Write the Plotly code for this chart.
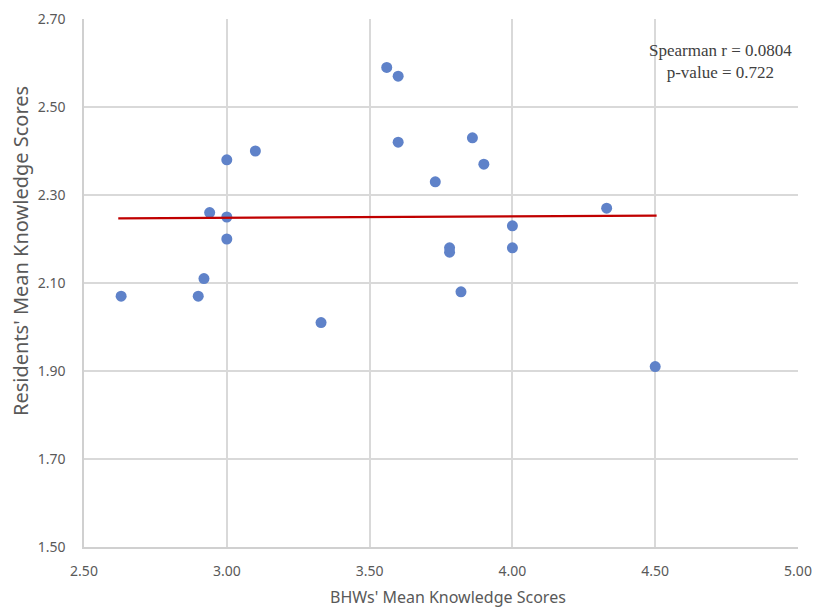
import plotly.graph_objects as go

bhw_scores = [2.63, 2.90, 2.92, 2.94, 3.00, 3.00, 3.00, 3.10, 3.33, 3.56, 3.60,
              3.60, 3.73, 3.86, 3.90, 3.78, 3.78, 3.82, 4.00, 4.00, 4.33, 4.50]
resident_scores = [2.07, 2.07, 2.11, 2.26, 2.25, 2.20, 2.38, 2.40, 2.01, 2.59, 2.57,
                   2.42, 2.33, 2.43, 2.37, 2.18, 2.17, 2.08, 2.23, 2.18, 2.27, 1.91]
trend_x = [2.62, 4.505]
trend_y = [2.247, 2.253]
x_ticks = [2.5, 3.0, 3.5, 4.0, 4.5, 5.0]
y_ticks = [1.5, 1.7, 1.9, 2.1, 2.3, 2.5, 2.7]
stats_text = "Spearman r = 0.0804<br>p-value = 0.722"
x_title = "BHWs' Mean Knowledge Scores"
y_title = "Residents' Mean Knowledge Scores"

W, H = 816, 608
L, R, T, B = 84, 18, 19, 61
pw, ph = W - L - R, H - T - B


def px(x):
    return (x - L) / pw


def py(y):
    return 1 - (y - T) / ph


fig = go.Figure()
fig.add_trace(go.Scatter(x=bhw_scores, y=resident_scores, mode="markers",
                         marker=dict(color="#5f82c9", size=11), showlegend=False))
fig.add_trace(go.Scatter(x=trend_x, y=trend_y, mode="lines",
                         line=dict(color="#c00000", width=2.2), showlegend=False))

tickfont = dict(family="Noto Sans", size=14, color="#595959")
fig.update_layout(
    width=W, height=H,
    margin=dict(l=L, r=R, t=T, b=B),
    paper_bgcolor="white", plot_bgcolor="white",
    xaxis=dict(range=[2.5, 5.0], tickvals=x_ticks, ticktext=[f"{v:.2f}" for v in x_ticks],
               showgrid=True, gridcolor="#d9d9d9", gridwidth=1.5, zeroline=False,
               showline=True, linecolor="#d0d0d0", linewidth=1.5,
               tickfont=tickfont, ticks="", automargin=False, ticklabelstandoff=10),
    yaxis=dict(range=[1.5, 2.7], tickvals=y_ticks, ticktext=[f"{v:.2f}" for v in y_ticks],
               showgrid=True, gridcolor="#d9d9d9", gridwidth=1.5, zeroline=False,
               showline=True, linecolor="#d0d0d0", linewidth=1.5,
               tickfont=tickfont, ticks="", automargin=False, ticklabelstandoff=14),
    annotations=[
        dict(x=px(720), y=py(62), xref="paper", yref="paper", text=stats_text,
             showarrow=False, align="center", xanchor="center", yanchor="middle",
             font=dict(family="Liberation Serif", size=17, color="#404040")),
        dict(x=px(448), y=py(597), xref="paper", yref="paper", text=x_title,
             showarrow=False, xanchor="center", yanchor="middle",
             font=dict(family="Noto Sans", size=16, color="#595959")),
        dict(x=px(20), y=py(251), xref="paper", yref="paper", text=y_title,
             showarrow=False, xanchor="center", yanchor="middle", textangle=-90,
             font=dict(family="Noto Sans", size=20, color="#595959")),
    ],
)
fig.write_html("out.html", config={"displayModeBar": False},
               post_script="document.body.style.margin='0';document.body.style.overflow='hidden';")
